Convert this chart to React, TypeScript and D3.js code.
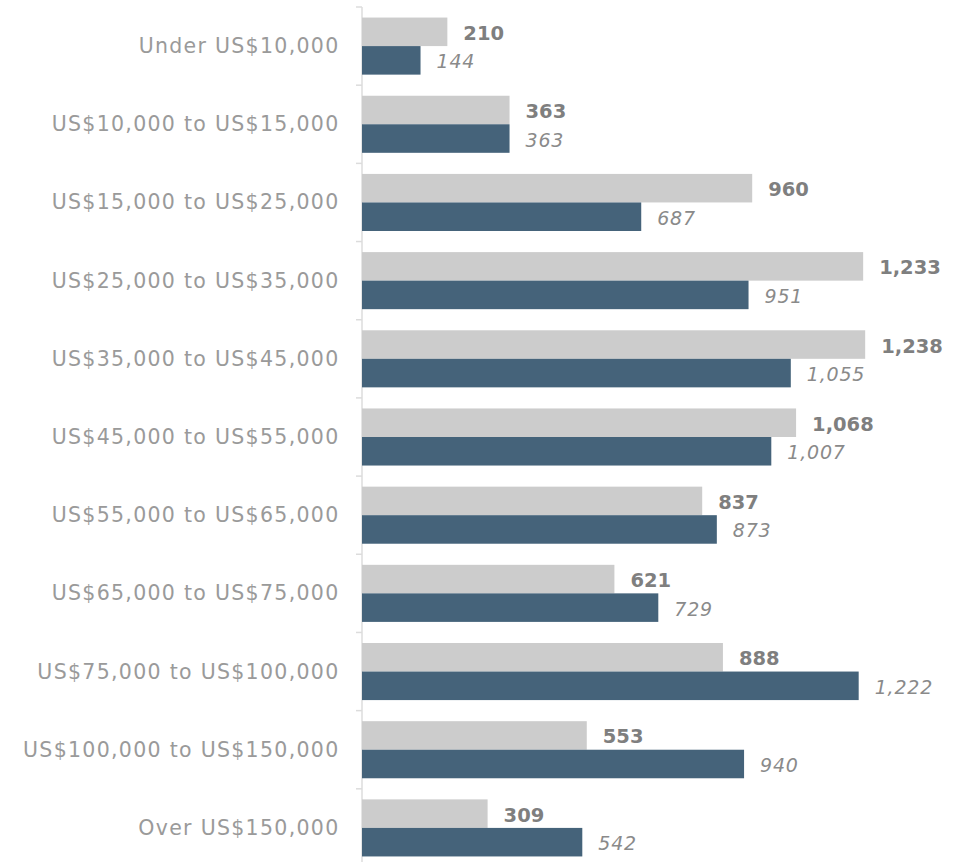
import React, { useEffect } from "react";
import * as d3 from "d3";

const categories = [
  "Under US$10,000",
  "US$10,000 to US$15,000",
  "US$15,000 to US$25,000",
  "US$25,000 to US$35,000",
  "US$35,000 to US$45,000",
  "US$45,000 to US$55,000",
  "US$55,000 to US$65,000",
  "US$65,000 to US$75,000",
  "US$75,000 to US$100,000",
  "US$100,000 to US$150,000",
  "Over US$150,000",
];
const seriesA = [210, 363, 960, 1233, 1238, 1068, 837, 621, 888, 553, 309];
const seriesB = [144, 363, 687, 951, 1055, 1007, 873, 729, 1222, 940, 542];

const W = 967;
const H = 862;
const FONT = "'DejaVu Sans', sans-serif";

export default function App() {
  useEffect(() => {
    document.body.style.margin = "0";
  }, []);

  const x = d3.scaleLinear().domain([0, 1240]).range([362, 866]);
  const y = d3
    .scaleBand<string>()
    .domain(categories)
    .range([7, 867])
    .paddingInner(0.27)
    .paddingOuter(0.135);
  const step = y.step();
  const bw = y.bandwidth();
  const half = bw / 2;
  const fmt = d3.format(",");
  const ticks = d3.range(categories.length + 1).map((i) => 7 + i * step);

  return (
    <svg width={W} height={H} style={{ display: "block", background: "#fff" }}>
      <line x1={362} x2={362} y1={7} y2={H} stroke="#dcdcdc" strokeWidth={1.5} />
      {ticks.map((t, i) => (
        <line key={i} x1={356} x2={362} y1={t} y2={t} stroke="#dcdcdc" strokeWidth={1.5} />
      ))}
      {categories.map((c, i) => {
        const y0 = y(c)!;
        return (
          <g key={c}>
            <rect x={x(0)} y={y0} width={x(seriesA[i]) - x(0)} height={half} fill="#cccccc" />
            <rect x={x(0)} y={y0 + half} width={x(seriesB[i]) - x(0)} height={half} fill="#45637a" />
            <text
              x={339.5}
              y={y0 + half}
              textAnchor="end"
              dominantBaseline="central"
              fontFamily={FONT}
              fontSize={20.5}
              letterSpacing={1.3}
              fill="#9a9a9a"
            >
              {c}
            </text>
            <text
              x={x(seriesA[i]) + 16}
              y={y0 + half / 2 + 1.5}
              dominantBaseline="central"
              fontFamily={FONT}
              fontSize={19.5}
              fontWeight="bold"
              fill="#7f7f7f"
            >
              {fmt(seriesA[i])}
            </text>
            <text
              x={x(seriesB[i]) + 16}
              y={y0 + half + half / 2 + 1}
              dominantBaseline="central"
              fontFamily={FONT}
              fontSize={19}
              letterSpacing={0.8}
              fontStyle="italic"
              fill="#8a8a8a"
            >
              {fmt(seriesB[i])}
            </text>
          </g>
        );
      })}
    </svg>
  );
}
